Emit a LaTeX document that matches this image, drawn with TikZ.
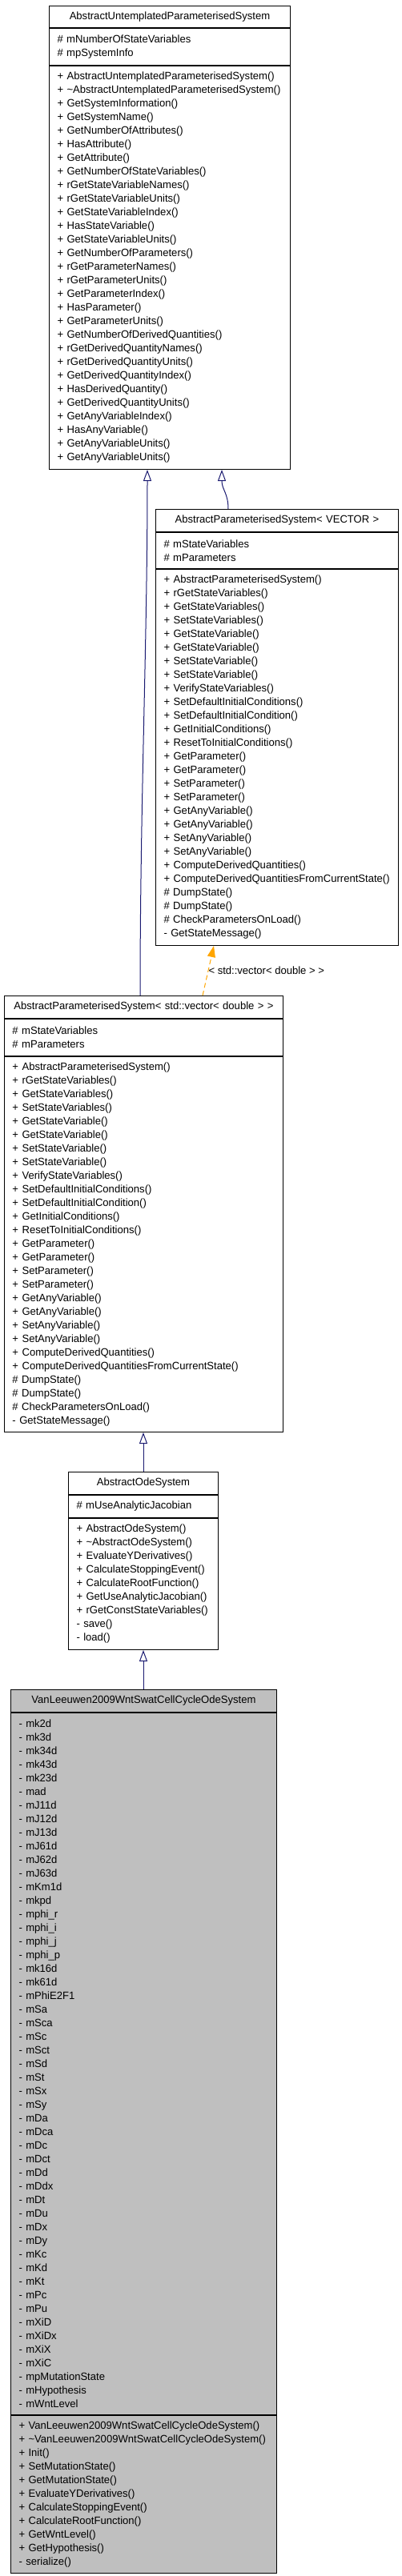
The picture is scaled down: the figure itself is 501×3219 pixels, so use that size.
\documentclass[tikz,border=0pt]{standalone}
\usepackage{fontspec}
\setmainfont{Liberation Sans}[FakeStretch=0.98]
\usetikzlibrary{arrows.meta,calc}

\definecolor{edgeblue}{RGB}{25,25,112}
\definecolor{tmplorange}{RGB}{255,165,0}
\definecolor{leafgray}{RGB}{191,191,191}

\hyphenpenalty=10000
\exhyphenpenalty=10000
\newcommand{\umlfont}{\fontsize{13.33}{17}\selectfont}

% members shared by both AbstractParameterisedSystem boxes
\newcommand{\paramattrs}{\#~mStateVariables\\ \#~mParameters}
\newcommand{\parammethods}{+~AbstractParameterisedSystem()\\ +~rGetStateVariables()\\
  +~GetStateVariables()\\ +~SetStateVariables()\\ +~GetStateVariable()\\ +~GetStateVariable()\\
  +~SetStateVariable()\\ +~SetStateVariable()\\ +~VerifyStateVariables()\\
  +~SetDefaultInitialConditions()\\ +~SetDefaultInitialCondition()\\ +~GetInitialConditions()\\
  +~ResetToInitialConditions()\\ +~GetParameter()\\ +~GetParameter()\\ +~SetParameter()\\
  +~SetParameter()\\ +~GetAnyVariable()\\ +~GetAnyVariable()\\ +~SetAnyVariable()\\
  +~SetAnyVariable()\\ +~ComputeDerivedQuantities()\\ +~ComputeDerivedQuantitiesFromCurrentState()\\
  \#~DumpState()\\ \#~DumpState()\\ \#~CheckParametersOnLoad()\\ -~GetStateMessage()}

\tikzset{
  part/.style={draw=black, line width=1pt, anchor=north west, inner xsep=10pt, inner ysep=0pt,
    font=\umlfont, align=left},
  title/.style={part, align=center},
  inherit/.style={draw=edgeblue, line width=1pt, -{Triangle[open,length=14pt,width=10pt,fill=white]}},
  tmpl/.style={draw=tmplorange, line width=1pt, dash pattern=on 6pt off 4pt,
    -{Triangle[length=14pt,width=10pt,fill=tmplorange]}},
}

\begin{document}
\begin{tikzpicture}[x=1pt,y=-1pt]
  \useasboundingbox (0,0) rectangle (501,3219);

  % AbstractUntemplatedParameterisedSystem
  \node[title, text width=281pt, minimum height=27pt] (aTitle) at (61,7) {AbstractUntemplatedParameterisedSystem};
  \node[part, text width=281pt, minimum height=46pt] (aAttr) at (aTitle.south west) {\#~mNumberOfStateVariables\\ \#~mpSystemInfo};
  \node[part, text width=281pt, minimum height=504pt] (aMeth) at (aAttr.south west) {+~AbstractUntemplatedParameterisedSystem()\\
    +~\textasciitilde AbstractUntemplatedParameterisedSystem()\\ +~GetSystemInformation()\\ +~GetSystemName()\\
    +~GetNumberOfAttributes()\\ +~HasAttribute()\\ +~GetAttribute()\\ +~GetNumberOfStateVariables()\\
    +~rGetStateVariableNames()\\ +~rGetStateVariableUnits()\\ +~GetStateVariableIndex()\\ +~HasStateVariable()\\
    +~GetStateVariableUnits()\\ +~GetNumberOfParameters()\\ +~rGetParameterNames()\\ +~rGetParameterUnits()\\
    +~GetParameterIndex()\\ +~HasParameter()\\ +~GetParameterUnits()\\ +~GetNumberOfDerivedQuantities()\\
    +~rGetDerivedQuantityNames()\\ +~rGetDerivedQuantityUnits()\\ +~GetDerivedQuantityIndex()\\
    +~HasDerivedQuantity()\\ +~GetDerivedQuantityUnits()\\ +~GetAnyVariableIndex()\\ +~HasAnyVariable()\\
    +~GetAnyVariableUnits()\\ +~GetAnyVariableUnits()};

  % AbstractParameterisedSystem< VECTOR >
  \node[title, text width=283pt, minimum height=28pt] (bTitle) at (194,636) {AbstractParameterisedSystem<~VECTOR~>};
  \node[part, text width=283pt, minimum height=45pt] (bAttr) at (bTitle.south west) {\paramattrs};
  \node[part, text width=283pt, minimum height=470pt] (bMeth) at (bAttr.south west) {\parammethods};

  % AbstractParameterisedSystem< std::vector< double > >
  \node[title, text width=328pt, minimum height=28pt] (cTitle) at (5,1244) {AbstractParameterisedSystem<~std::vector<~double~>~>};
  \node[part, text width=328pt, minimum height=46pt] (cAttr) at (cTitle.south west) {\paramattrs};
  \node[part, text width=328pt, minimum height=469pt] (cMeth) at (cAttr.south west) {\parammethods};

  % AbstractOdeSystem
  \node[title, text width=167pt, minimum height=28pt] (dTitle) at (85,1839) {AbstractOdeSystem};
  \node[part, text width=167pt, minimum height=28pt] (dAttr) at (dTitle.south west) {\#~mUseAnalyticJacobian};
  \node[part, text width=167pt, minimum height=164pt] (dMeth) at (dAttr.south west) {+~AbstractOdeSystem()\\
    +~\textasciitilde AbstractOdeSystem()\\ +~EvaluateYDerivatives()\\ +~CalculateStoppingEvent()\\
    +~CalculateRootFunction()\\ +~GetUseAnalyticJacobian()\\ +~rGetConstStateVariables()\\ -~save()\\ -~load()};

  % VanLeeuwen2009WntSwatCellCycleOdeSystem
  \node[title, fill=leafgray, text width=312pt, minimum height=28pt] (eTitle) at (13,2111) {VanLeeuwen2009WntSwatCellCycleOdeSystem};
  \node[part, fill=leafgray, text width=312pt, minimum height=877pt] (eAttr) at (eTitle.south west) {-~mk2d\\ -~mk3d\\
    -~mk34d\\ -~mk43d\\ -~mk23d\\ -~mad\\ -~mJ11d\\ -~mJ12d\\ -~mJ13d\\ -~mJ61d\\ -~mJ62d\\ -~mJ63d\\ -~mKm1d\\
    -~mkpd\\ -~mphi\_r\\ -~mphi\_i\\ -~mphi\_j\\ -~mphi\_p\\ -~mk16d\\ -~mk61d\\ -~mPhiE2F1\\ -~mSa\\ -~mSca\\
    -~mSc\\ -~mSct\\ -~mSd\\ -~mSt\\ -~mSx\\ -~mSy\\ -~mDa\\ -~mDca\\ -~mDc\\ -~mDct\\ -~mDd\\ -~mDdx\\ -~mDt\\
    -~mDu\\ -~mDx\\ -~mDy\\ -~mKc\\ -~mKd\\ -~mKt\\ -~mPc\\ -~mPu\\ -~mXiD\\ -~mXiDx\\ -~mXiX\\ -~mXiC\\
    -~mpMutationState\\ -~mHypothesis\\ -~mWntLevel};
  \node[part, fill=leafgray, text width=312pt, minimum height=197pt] (eMeth) at (eAttr.south west) {+~VanLeeuwen2009WntSwatCellCycleOdeSystem()\\
    +~\textasciitilde VanLeeuwen2009WntSwatCellCycleOdeSystem()\\ +~Init()\\ +~SetMutationState()\\
    +~GetMutationState()\\ +~EvaluateYDerivatives()\\ +~CalculateStoppingEvent()\\ +~CalculateRootFunction()\\
    +~GetWntLevel()\\ +~GetHypothesis()\\ -~serialize()};

  % inheritance
  \draw[inherit] ($(bTitle.north west)+(91,0)$) .. controls +(0,-20) and +(0,25) .. ($(aMeth.south west)+(216,0)$);
  \draw[inherit] ($(cTitle.north west)+(170,0)$) .. controls +(0,-244) and +(0,216) .. ($(aMeth.south west)+(123,0)$);
  \draw[tmpl] ($(cTitle.north west)+(248,0)$) -- ($(bMeth.south west)+(73,0)$)
    node[pos=0.5, anchor=west, inner sep=0pt, font=\umlfont] (inst) {< std::vector< double > >};
  \draw[inherit] (dTitle.north) -- (dTitle.north |- cMeth.south);
  \draw[inherit] (eTitle.north -| dMeth.south) -- (dMeth.south);
\end{tikzpicture}
\end{document}
